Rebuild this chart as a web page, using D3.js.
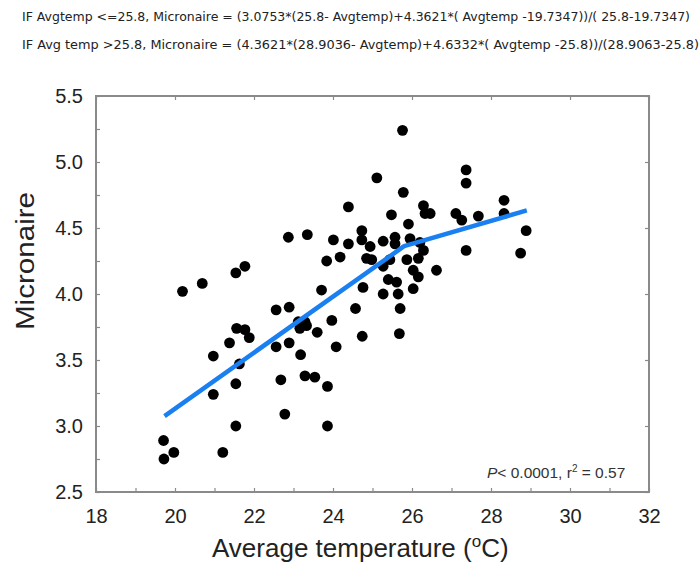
<!DOCTYPE html>
<html><head><meta charset="utf-8">
<script src="https://cdn.jsdelivr.net/npm/d3@7"></script>
<style>body{margin:0;background:#fff}</style>
</head><body>
<svg id="c" width="700" height="570"></svg>
<script>
const formulaLines = [
  "IF Avgtemp <=25.8, Micronaire = (3.0753*(25.8- Avgtemp)+4.3621*( Avgtemp -19.7347))/( 25.8-19.7347)",
  "IF Avg temp >25.8, Micronaire = (4.3621*(28.9036- Avgtemp)+4.6332*( Avgtemp -25.8))/(28.9063-25.8))"
];
const xTickValues = [18, 20, 22, 24, 26, 28, 30, 32];
const yTickValues = [2.5, 3.0, 3.5, 4.0, 4.5, 5.0, 5.5];
const avgTemp = [
  19.71, 19.97, 19.72, 21.21, 20.19, 20.69, 21.54, 21.77, 20.97, 20.97,
  21.54, 21.54, 21.63, 21.38, 21.56, 21.77, 21.88, 22.56, 22.89, 22.56,
  22.89, 22.68, 22.78, 22.87, 23.35, 23.12, 23.29, 23.16, 23.33, 23.60,
  23.18, 23.29, 23.54, 23.86, 23.86, 23.71, 23.97, 24.08, 24.57, 24.74,
  24.76, 23.84, 24.18, 24.01, 24.39, 24.39, 24.73, 24.73, 24.94, 24.85,
  24.98, 25.11, 25.27, 25.27, 25.27, 25.44, 25.40, 25.61, 25.48, 25.57,
  25.57, 25.65, 25.70, 25.68, 25.76, 25.78, 25.87, 25.91, 25.95, 26.03,
  26.03, 26.16, 26.16, 26.20, 26.29, 26.29, 26.46, 26.62, 27.11, 27.26,
  27.37, 27.37, 27.37, 27.68, 28.33, 28.33, 28.75, 28.89, 26.33
];
const micronaire = [
  2.89, 2.80, 2.75, 2.80, 4.02, 4.08, 4.16, 4.21, 3.53, 3.24,
  3.00, 3.32, 3.47, 3.63, 3.74, 3.73, 3.67, 3.88, 3.90, 3.60,
  3.63, 3.35, 3.09, 4.43, 4.45, 3.79, 3.79, 3.74, 3.76, 3.71,
  3.54, 3.38, 3.37, 3.30, 3.00, 4.03, 3.80, 3.60, 3.89, 3.68,
  4.05, 4.25, 4.28, 4.41, 4.38, 4.66, 4.48, 4.41, 4.36, 4.27,
  4.26, 4.88, 4.40, 4.21, 4.00, 4.26, 4.11, 4.09, 4.60, 4.43,
  4.38, 4.00, 3.89, 3.70, 5.24, 4.77, 4.26, 4.53, 4.42, 4.18,
  4.04, 4.13, 4.27, 4.39, 4.33, 4.67, 4.61, 4.18, 4.61, 4.56,
  4.94, 4.84, 4.33, 4.59, 4.71, 4.61, 4.31, 4.48, 4.61
];
const fitTemp = [19.7347, 25.8, 28.9063];
const fitMicronaire = [3.0753, 4.3621, 4.6332];
const xTitle = ["Average temperature (", "o", "C)"];
const yTitle = "Micronaire";
const statText = ["P", "< 0.0001, r", "2", " = 0.57"];

const svg = d3.select("#c");
const L = 96, R = 649, T = 96, B = 492;
const x = d3.scaleLinear().domain([18, 32]).range([L, R]);
const y = d3.scaleLinear().domain([2.5, 5.5]).range([B, T]);
const axisCol = "#8a8a8a";
const font = "'Liberation Sans', Arial, sans-serif";

// formula lines
const fl = svg.append("g").attr("font-family", "'Liberation Sans Narrow','DejaVu Sans Condensed','Liberation Sans',sans-serif")
  .attr("font-size", 12).attr("fill", "#222");
fl.append("text").attr("x", 22).attr("y", 21).attr("textLength", 668)
  .attr("lengthAdjust", "spacingAndGlyphs").text(formulaLines[0]);
fl.append("text").attr("x", 22).attr("y", 49).attr("textLength", 682)
  .attr("lengthAdjust", "spacingAndGlyphs").text(formulaLines[1]);

// axes
function styleAxis(g) {
  g.select(".domain").remove();
  g.selectAll(".tick line").attr("stroke", axisCol).attr("stroke-width", 1.2);
  g.selectAll(".tick text").attr("fill", "#222").attr("font-family", font).attr("font-size", 20);
}
svg.append("g").attr("transform", `translate(0,${B})`)
  .call(d3.axisBottom(x).tickValues(d3.range(18, 33, 1)).tickSizeInner(-4).tickSizeOuter(0).tickPadding(17)
    .tickFormat(d => xTickValues.includes(d) ? d3.format("d")(d) : ""))
  .call(styleAxis);
svg.append("g").attr("transform", `translate(0,${T})`)
  .call(d3.axisTop(x).tickValues(xTickValues).tickSizeInner(-4).tickSizeOuter(0).tickFormat(""))
  .call(styleAxis);
svg.append("g").attr("transform", `translate(${L},0)`)
  .call(d3.axisLeft(y).tickValues(d3.range(2.5, 5.51, 0.25)).tickSizeInner(-4).tickSizeOuter(0).tickPadding(13)
    .tickFormat(d => yTickValues.some(v => Math.abs(v - d) < 1e-6) ? d3.format(".1f")(d) : ""))
  .call(styleAxis);
svg.append("g").attr("transform", `translate(${R},0)`)
  .call(d3.axisRight(y).tickValues(yTickValues).tickSizeInner(-4).tickSizeOuter(0).tickFormat(""))
  .call(styleAxis);

svg.append("rect").attr("x", L).attr("y", T).attr("width", R - L).attr("height", B - T)
  .attr("fill", "none").attr("stroke", axisCol).attr("stroke-width", 2);

// points
const pts = avgTemp.map((t, i) => [t, micronaire[i]]);
svg.append("g").selectAll("circle").data(pts).join("circle")
  .attr("cx", d => x(d[0])).attr("cy", d => y(d[1])).attr("r", 5.4).attr("fill", "#000");

// fitted piecewise line
svg.append("path").datum(fitTemp.map((t, i) => [t, fitMicronaire[i]]))
  .attr("d", d3.line().x(d => x(d[0])).y(d => y(d[1])))
  .attr("fill", "none").attr("stroke", "#1a7ff0").attr("stroke-width", 4.5)
  .attr("stroke-linejoin", "round");

// stat annotation
const st = svg.append("text").attr("x", 487).attr("y", 478).attr("font-family", font)
  .attr("font-size", 15.5).attr("fill", "#333");
st.append("tspan").attr("font-style", "italic").text(statText[0]);
st.append("tspan").text(statText[1]);
st.append("tspan").attr("font-size", 10).attr("dy", -6).text(statText[2]);
st.append("tspan").attr("dy", 6).text(statText[3]);

// axis titles
const xt = svg.append("text").attr("x", 212).attr("y", 557).attr("font-family", font)
  .attr("font-size", 26).attr("fill", "#222");
xt.append("tspan").text(xTitle[0]);
xt.append("tspan").attr("font-size", 17).attr("dy", -10).text(xTitle[1]);
xt.append("tspan").attr("dy", 10).text(xTitle[2]);

svg.append("text").attr("transform", "translate(34,261) rotate(-90)").attr("text-anchor", "middle")
  .attr("font-family", font).attr("font-size", 26).attr("fill", "#222").attr("textLength", 138)
  .attr("lengthAdjust", "spacingAndGlyphs").text(yTitle);
</script>
</body></html>
